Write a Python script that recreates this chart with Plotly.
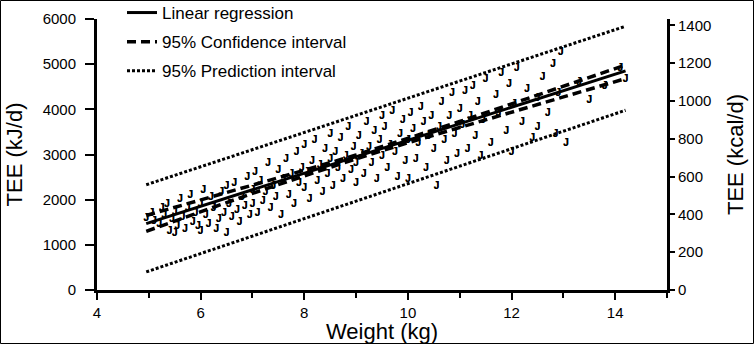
import plotly.graph_objects as go

# ---- data ----
weight = [4.95, 5.05, 5.1, 5.2, 5.25, 5.3, 5.35, 5.4, 5.45, 5.5, 5.5, 5.55,
          5.6, 5.65, 5.7, 5.75, 5.8, 5.85, 5.9, 5.95, 6.0, 6.0, 6.05,
          6.1, 6.15, 6.2, 6.25, 6.3, 6.35, 6.4, 6.45, 6.5, 6.5,
          6.55, 6.6, 6.65, 6.7, 6.75, 6.8, 6.85, 6.9, 6.95, 7.0, 7.0,
          7.05, 7.1, 7.15, 7.2, 7.25, 7.3, 7.35, 7.4, 7.45, 7.5,
          7.55, 7.6, 7.65, 7.7, 7.75, 7.8, 7.85, 7.9, 7.95, 8.0, 8.0,
          8.05, 8.1, 8.15, 8.2, 8.25, 8.3, 8.35, 8.4, 8.45, 8.5, 8.5,
          8.55, 8.6, 8.65, 8.7, 8.75, 8.8, 8.85, 8.9, 8.95, 9.0, 9.0,
          9.05, 9.1, 9.15, 9.2, 9.25, 9.3, 9.35, 9.4, 9.45, 9.5, 9.5,
          9.55, 9.6, 9.65, 9.7, 9.75, 9.8, 9.85, 9.9, 9.95, 10.0, 10.0,
          10.05, 10.1, 10.15, 10.2, 10.25, 10.3, 10.35, 10.4, 10.45, 10.5,
          10.55, 10.6, 10.65, 10.7, 10.75, 10.8, 10.85, 10.9, 10.95, 11.0,
          11.05, 11.1, 11.15, 11.2, 11.25, 11.3, 11.35, 11.4, 11.45, 11.5,
          11.6, 11.7, 11.75, 11.8, 11.9, 11.95, 12.0,
          12.05, 12.1, 12.2, 12.3, 12.4, 12.5, 12.5,
          12.6, 12.7, 12.8, 12.85, 12.9, 12.95, 13.05,
          13.3, 13.5, 13.8, 14.1, 14.2]
tee_kj = [1580, 1700, 1520, 1450, 1800, 1650, 1900, 1300, 1550, 1720, 1250, 1400,
          2000, 1600, 1350, 1800, 2100, 1500, 1700, 1400, 1900, 1300, 2200,
          1650, 1450, 2050, 1800, 1350, 1550, 2150, 1700, 1250, 2300,
          1900, 1600, 2350, 1750, 1500, 2050, 1850, 2500, 1650, 2200, 1900,
          2600, 1700, 2400, 1950, 2150, 2800, 1800, 2300, 2050, 2650,
          1650, 2450, 2900, 2100, 2550, 1900, 3050, 2350, 2700, 2250, 3200,
          2600, 2000, 2850, 3300, 2400, 2750, 2150, 3100, 2550, 2900, 3450,
          2300, 3050, 2700, 3350, 2450, 2950, 3600, 2650, 3150, 2350, 2800,
          3400, 3000, 2550, 3700, 3150, 2800, 3500, 2450, 3300, 3850, 2950,
          3600, 2700, 3200, 3950, 3050, 2500, 3450, 3750, 2850, 3300, 2450,
          3900, 3550, 2900, 3250, 4050, 3700, 2700, 3400, 3850, 3100,
          2300, 3600, 4150, 3300, 2850, 3850, 4350, 3450, 3000, 4000,
          3650, 4400, 3100, 3850, 4500, 3400, 4150, 2950, 3750, 4650,
          3250, 4300, 3900, 4800, 3500, 4550, 3050,
          4100, 4900, 3700, 4450, 3350, 4250, 3600,
          4700, 3900, 5000, 3450, 4350, 5250, 3250,
          4600, 4200, 4500, 4900, 4650]

reg_x = [4.95, 14.2]
reg_y = [1470, 4850]

band_x = [4.95, 6, 7, 8, 9, 10, 11, 12, 13, 14.2]
ci_upper = [1650, 1990, 2315, 2650, 2990, 3350, 3730, 4120, 4510, 4980]
ci_lower = [1300, 1740, 2140, 2525, 2905, 3260, 3600, 3935, 4270, 4680]

pi_x = [4.95, 14.2]
pi_upper = [2330, 5840]
pi_lower = [400, 3980]

x_ticks = [4, 6, 8, 10, 12, 14]
kj_ticks = [0, 1000, 2000, 3000, 4000, 5000, 6000]
kcal_ticks = [0, 200, 400, 600, 800, 1000, 1200, 1400]
KJ_PER_KCAL = 4.184

FONT = "Liberation Sans, Arial, sans-serif"

fig = go.Figure()

fig.add_trace(go.Scatter(
    x=weight, y=tee_kj, mode="text", text=["J"] * len(weight),
    textfont=dict(family=FONT, size=10, color="black", weight="bold",
                  shadow="0px 0px 0px black"),
    showlegend=False, hoverinfo="skip"))

fig.add_trace(go.Scatter(
    x=reg_x, y=reg_y, mode="lines", name="Linear regression", legendgroup="a",
    line=dict(color="black", width=3)))
fig.add_trace(go.Scatter(
    x=band_x, y=ci_upper, mode="lines", name="95% Confidence interval", legendgroup="b",
    line=dict(color="black", width=3.5, dash="9px,5px")))
fig.add_trace(go.Scatter(
    x=band_x, y=ci_lower, mode="lines", showlegend=False, legendgroup="b",
    line=dict(color="black", width=3.5, dash="9px,5px")))
fig.add_trace(go.Scatter(
    x=pi_x, y=pi_upper, mode="lines", name="95% Prediction interval", legendgroup="c",
    line=dict(color="black", width=3, dash="3px,2px")))
fig.add_trace(go.Scatter(
    x=pi_x, y=pi_lower, mode="lines", showlegend=False, legendgroup="c",
    line=dict(color="black", width=3, dash="3px,2px")))

# invisible trace to activate the right axis
fig.add_trace(go.Scatter(x=[4], y=[0], yaxis="y2", mode="markers",
                         marker=dict(opacity=0), showlegend=False, hoverinfo="skip"))

L, R, T, B = 97, 87, 19, 54
W, H = 754, 344
pw, ph = W - L - R, H - T - B

fig.update_layout(
    width=W, height=H,
    margin=dict(l=L, r=R, t=T, b=B, pad=0, autoexpand=False),
    paper_bgcolor="white", plot_bgcolor="white",
    font=dict(family=FONT, color="black", size=15),
    xaxis=dict(range=[4, 15], tickvals=x_ticks, showline=True, linewidth=3,
               linecolor="black", ticks="outside", ticklen=7, tickwidth=2,
               tickcolor="black", showgrid=False, zeroline=False, automargin=False,
               tickfont=dict(size=15),
               minor=dict(dtick=1, tick0=4, ticks="outside", ticklen=5,
                          tickwidth=2, tickcolor="black", showgrid=False),
               title=dict(text="Weight (kg)", font=dict(size=22), standoff=2)),
    yaxis=dict(range=[0, 6000], tickvals=kj_ticks, showline=True, linewidth=3,
               linecolor="black", ticks="outside", ticklen=9, tickwidth=2,
               tickcolor="black", showgrid=False, zeroline=False, automargin=False,
               tickfont=dict(size=15), ticklabelstandoff=6,
               title=dict(text="TEE (kJ/d)", font=dict(size=22), standoff=14)),
    yaxis2=dict(range=[0, 6000 / KJ_PER_KCAL], tickvals=kcal_ticks, overlaying="y",
                side="right", showline=True, linewidth=3, linecolor="black",
                ticks="outside", ticklen=5, tickwidth=2, tickcolor="black",
                showgrid=False, zeroline=False, automargin=False, tickfont=dict(size=15),
                title=dict(text="TEE (kcal/d)", font=dict(size=22), standoff=18)),
    legend=dict(x=(122 - L) / pw, y=1 + 24 / ph, xanchor="left", yanchor="top",
                bgcolor="rgba(0,0,0,0)", font=dict(size=17), borderwidth=0,
                traceorder="grouped", tracegroupgap=4),
    shapes=[dict(type="rect", xref="paper", yref="paper",
                 x0=-(L - 0.5) / pw, x1=1 + (R - 0.5) / pw,
                 y0=-(B - 0.5) / ph, y1=1 + (T - 0.5) / ph,
                 line=dict(color="black", width=1))],
)

fig.write_html("out.html")
